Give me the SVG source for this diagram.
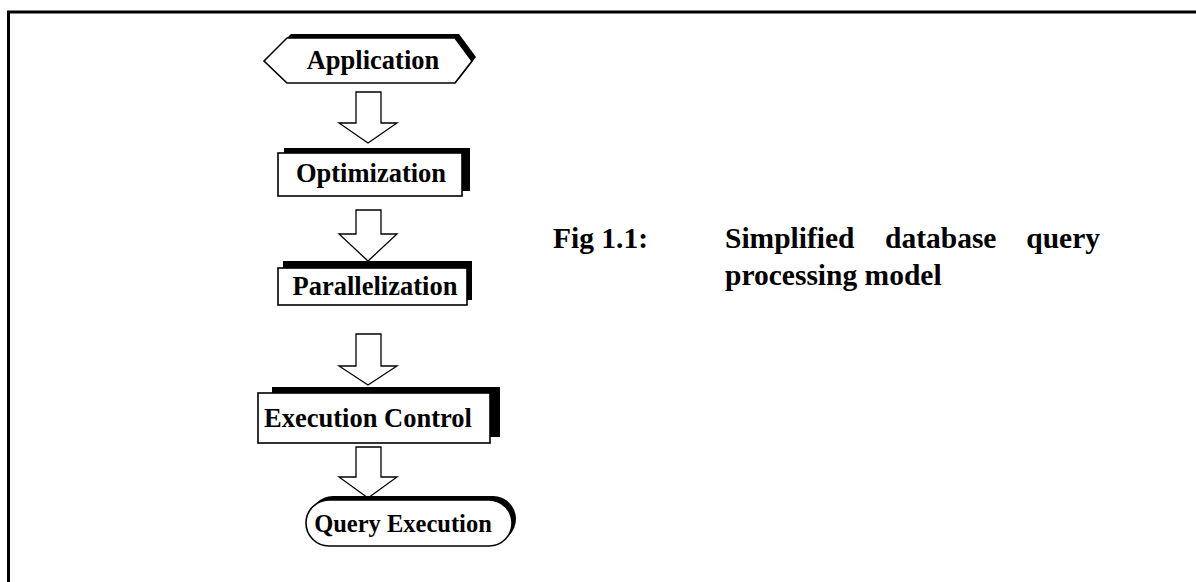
<svg xmlns="http://www.w3.org/2000/svg" width="1196" height="582" viewBox="0 0 1196 582">
  <style>
    .frame { fill: none; stroke: #000; stroke-width: 3; }
    .shadow { fill: #000; stroke: none; }
    .box { fill: #fff; stroke: #000; stroke-width: 1.6; }
    .arrow { fill: #fff; stroke: #000; stroke-width: 1.3; stroke-linejoin: miter; }
    .label { font-family: "Liberation Serif", "Times New Roman", serif; font-weight: bold; font-size: 26.5px; fill: #000; text-anchor: middle; }
    .caption { font-family: "Liberation Serif", "Times New Roman", serif; font-weight: bold; font-size: 29.5px; fill: #000; }
  </style>

  <!-- page frame: top and left rules only -->
  <path class="frame" d="M8.5 582 V12 H1196"/>

  <!-- flow connectors: hollow block arrows -->
  <g id="connectors">
    <path class="arrow" d="M356 92 H381 V123 H397 L368 143 L339 123 H356 Z"/>
    <path class="arrow" d="M356 210 H381 V234 H397 L368 261 L339 234 H356 Z"/>
    <path class="arrow" d="M356 334 H381 V366 H397 L368 385 L339 366 H356 Z"/>
    <path class="arrow" d="M356 447 H381 V477 H397 L368 498 L339 477 H356 Z"/>
  </g>

  <g id="application">
    <path class="shadow" d="M268 57 L291 34 H459 L476 57 L459 79 H291 Z"/>
    <path class="box" d="M264 61 L287 38 H455 L472 61 L455 83 H287 Z"/>
    <text class="label" x="373" y="69">Application</text>
  </g>

  <g id="optimization">
    <rect class="shadow" x="284" y="148" width="186" height="43"/>
    <rect class="box" x="278" y="153" width="184" height="43"/>
    <text class="label" x="371" y="182">Optimization</text>
  </g>

  <g id="parallelization">
    <rect class="shadow" x="283" y="261" width="189" height="39"/>
    <rect class="box" x="278" y="268" width="189" height="37"/>
    <text class="label" x="375" y="295">Parallelization</text>
  </g>

  <g id="execution-control">
    <rect class="shadow" x="272" y="387" width="228" height="50"/>
    <rect class="box" x="258" y="393" width="232" height="50"/>
    <text class="label" x="368" y="427">Execution Control</text>
  </g>

  <g id="query-execution">
    <rect class="shadow" x="310" y="496" width="206" height="46" rx="23" ry="23"/>
    <rect class="box" x="306" y="500" width="206" height="46" rx="23" ry="23"/>
    <text class="label" x="403" y="532" style="font-size:24.5px">Query Execution</text>
  </g>

  <g id="caption">
    <text class="caption" x="553" y="248">Fig 1.1:</text>
    <text class="caption" x="725" y="248">Simplified</text>
    <text class="caption" x="885" y="248">database</text>
    <text class="caption" x="1100" y="248" text-anchor="end">query</text>
    <text class="caption" x="725" y="285">processing model</text>
  </g>
</svg>
